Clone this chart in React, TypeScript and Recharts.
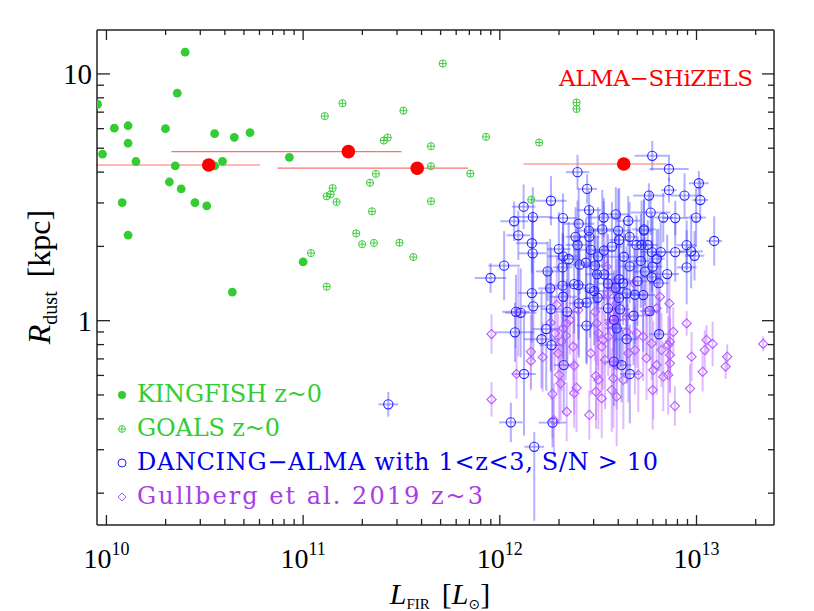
import React from "react";
import { ScatterChart, Scatter, XAxis, YAxis, ErrorBar } from "recharts";

// log10(L_FIR / Lsun), log10(R_dust / kpc)
const kingfish: number[][] = [
  [10.4, 1.088], [10.36, 0.922], [9.955, 0.877], [10.04, 0.78], [10.11, 0.79],
  [10.11, 0.719], [9.98, 0.675], [10.15, 0.645], [10.08, 0.478], [10.11, 0.347],
  [10.3, 0.778], [10.35, 0.627], [10.32, 0.562], [10.38, 0.534], [10.45, 0.478],
  [10.51, 0.465], [10.55, 0.758], [10.55, 0.627], [10.59, 0.646], [10.65, 0.743],
  [10.73, 0.762], [10.64, 0.116], [10.93, 0.662], [11.0, 0.238],
];

const goals: number[][] = [
  [11.71, 1.042], [11.2, 0.881], [11.11, 0.829], [11.51, 0.851], [11.41, 0.73],
  [11.43, 0.742], [11.93, 0.745], [12.2, 0.722], [11.65, 0.707], [11.65, 0.626],
  [11.37, 0.595], [11.34, 0.559], [11.15, 0.537], [11.12, 0.504], [11.14, 0.512],
  [11.17, 0.481], [11.85, 0.596], [11.65, 0.484], [11.35, 0.443], [11.27, 0.354],
  [11.3, 0.31], [11.36, 0.315], [11.49, 0.316], [11.56, 0.258], [11.04, 0.274],
  [11.12, 0.138], [12.16, 0.49], [12.39, 0.884], [12.39, 0.858],
];

// logL, logR, lower x error, upper x error (dex)
const shizels: number[][] = [
  [10.52, 0.631, 0.57, 0.26],
  [11.23, 0.685, 0.9, 0.27],
  [11.58, 0.618, 0.71, 0.26],
  [12.63, 0.635, 0.51, 0.22],
];

// logL, logR, x error, y error (dex)
const dancing: (number | number[])[][] = [
  [12.775, 0.668, 0.09, 0.06], [12.395, 0.602, 0.06, 0.07], [12.86, 0.615, 0.1, 0.05],
  [12.444, 0.534, 0.05, 0.06], [12.86, 0.529, 0.04, 0.05], [13.012, 0.557, 0.05, 0.05],
  [13.019, 0.489, 0.04, 0.08], [12.758, 0.507, 0.08, 0.05], [12.939, 0.507, 0.07, 0.09],
  [12.26, 0.486, 0.08, 0.1], [12.121, 0.462, 0.06, 0.09], [12.168, 0.42, 0.1, 0.12],
  [12.073, 0.403, 0.07, 0.08], [12.094, 0.346, 0.06, 0.1], [12.163, 0.314, 0.08, 0.12],
  [12.321, 0.416, 0.07, 0.1], [12.454, 0.448, 0.06, 0.08], [12.401, 0.393, 0.08, 0.14],
  [12.528, 0.418, 0.09, 0.08], [12.59, 0.431, 0.07, 0.11], [12.653, 0.405, 0.06, 0.1],
  [12.767, 0.438, 0.1, 0.09], [12.831, 0.418, 0.05, 0.1], [12.892, 0.416, 0.06, 0.07],
  [12.998, 0.418, 0.05, 0.12], [13.09, 0.323, 0.04, 0.1], [12.733, 0.37, 0.06, 0.12],
  [12.95, 0.306, 0.05, 0.1], [12.022, 0.223, 0.08, 0.14], [11.953, 0.173, 0.08, 0.06],
  [12.167, 0.273, 0.07, 0.17], [12.243, 0.2, 0.06, 0.12], [12.163, 0.112, 0.07, 0.2],
  [12.322, 0.261, 0.08, 0.13], [12.385, 0.34, 0.05, 0.12], [12.395, 0.307, 0.06, 0.18],
  [12.453, 0.365, 0.07, 0.1], [12.521, 0.37, 0.06, 0.16], [12.455, 0.34, 0.05, 0.13],
  [12.463, 0.287, 0.09, 0.15], [12.529, 0.284, 0.06, 0.2], [12.319, 0.216, 0.05, 0.14],
  [12.406, 0.227, 0.07, 0.12], [12.438, 0.235, 0.05, 0.18], [12.484, 0.223, 0.06, 0.15],
  [12.531, 0.188, 0.05, 0.12], [12.602, 0.365, 0.06, 0.17], [12.607, 0.327, 0.05, 0.21],
  [12.66, 0.34, 0.04, 0.14], [12.631, 0.259, 0.07, 0.15], [12.695, 0.307, 0.05, 0.12],
  [12.733, 0.365, 0.04, 0.13], [12.721, 0.307, 0.06, 0.18], [12.752, 0.307, 0.05, 0.1],
  [12.773, 0.278, 0.06, 0.16], [12.818, 0.278, 0.05, 0.12], [12.717, 0.242, 0.05, 0.19],
  [12.738, 0.199, 0.06, 0.14], [12.777, 0.219, 0.05, 0.2], [12.772, 0.176, 0.05, 0.15],
  [12.798, 0.251, 0.04, 0.12], [12.807, 0.152, 0.05, 0.22], [12.851, 0.189, 0.06, 0.16],
  [12.95, 0.216, 0.05, 0.15], [12.892, 0.278, 0.05, 0.12], [12.99, 0.263, 0.05, 0.1],
  [12.973, 0.281, 0.06, 0.15], [12.607, 0.168, 0.05, 0.2], [12.627, 0.152, 0.06, 0.17],
  [12.589, 0.133, 0.05, 0.22], [12.645, 0.111, 0.06, 0.19], [12.606, 0.092, 0.05, 0.25],
  [12.687, 0.105, 0.05, 0.2], [12.729, 0.104, 0.06, 0.23], [12.762, 0.039, 0.05, 0.2],
  [12.495, 0.188, 0.06, 0.15], [12.458, 0.131, 0.05, 0.2], [12.497, 0.093, 0.06, 0.18],
  [12.399, 0.144, 0.05, 0.22], [12.319, 0.142, 0.06, 0.17], [12.378, 0.148, 0.05, 0.2],
  [12.322, 0.097, 0.07, 0.25], [12.256, 0.131, 0.06, 0.2], [12.402, 0.07, 0.05, 0.22],
  [12.441, 0.073, 0.06, 0.25], [12.55, 0.05, 0.05, 0.2], [12.611, 0.046, 0.05, 0.22],
  [12.106, 0.032, 0.08, 0.18], [12.17, 0.058, 0.06, 0.22], [12.26, 0.047, 0.05, 0.25],
  [12.343, 0.036, 0.06, 0.2], [12.082, 0.036, 0.07, 0.15], [12.077, -0.047, 0.1, 0.12],
  [12.236, -0.034, 0.07, 0.25], [12.212, -0.075, 0.09, 0.2], [12.263, -0.099, 0.06, 0.22],
  [12.441, -0.02, 0.05, 0.15], [12.325, -0.18, 0.05, 0.2], [12.123, -0.216, 0.06, 0.25],
  [12.056, -0.412, 0.06, 0.08], [12.268, -0.413, 0.07, 0.1], [12.175, -0.511, 0.05, [0.3, 0.06]],
  [12.58, -0.166, 0.05, 0.18], [12.619, -0.18, 0.05, 0.15], [12.661, -0.216, 0.05, 0.2],
  [12.645, -0.075, 0.06, 0.18], [12.81, -0.055, 0.05, 0.15], [12.58, 0.003, 0.05, 0.2],
  [12.594, -0.031, 0.06, 0.16], [11.433, -0.339, 0.05, 0.05], [12.68, 0.02, 0.05, 0.2],
  [12.35, 0.25, 0.06, 0.15], [12.57, 0.3, 0.05, 0.18], [12.66, 0.22, 0.05, 0.15],
  [12.5, 0.26, 0.06, 0.2], [12.55, 0.15, 0.05, 0.2], [12.7, 0.16, 0.05, 0.18],
  [12.3, 0.29, 0.06, 0.15], [12.48, 0.12, 0.05, 0.22],
];

// logL, logR, y error (dex)
const gullberg: number[][] = [
  [11.958, -0.054, 0.08], [11.958, -0.319, 0.07], [12.158, -0.126, 0.15], [12.158, -0.163, 0.12],
  [12.085, -0.216, 0.1], [12.218, -0.148, 0.14], [12.268, -0.297, 0.18], [12.302, -0.22, 0.2],
  [12.309, -0.254, 0.15], [12.34, -0.369, 0.12], [12.39, -0.272, 0.18], [12.378, -0.294, 0.14],
  [12.378, -0.182, 0.2], [12.297, -0.132, 0.16], [12.314, -0.085, 0.2], [12.322, -0.031, 0.15],
  [12.34, -0.011, 0.18], [12.356, 0.003, 0.14], [12.373, -0.105, 0.2], [12.28, -0.051, 0.15],
  [12.462, -0.132, 0.17], [12.455, -0.382, 0.1], [12.489, -0.224, 0.18], [12.489, -0.288, 0.15],
  [12.518, -0.315, 0.16], [12.501, -0.24, 0.2], [12.518, -0.105, 0.18], [12.535, -0.159, 0.2],
  [12.501, -0.051, 0.15], [12.493, -0.011, 0.17], [12.526, -0.078, 0.2], [12.551, -0.065, 0.16],
  [12.56, -0.011, 0.18], [12.577, 0.03, 0.15], [12.594, 0.003, 0.2], [12.577, -0.234, 0.2],
  [12.569, -0.281, 0.17], [12.594, -0.308, 0.2], [12.594, -0.18, 0.18], [12.628, -0.24, 0.2],
  [12.645, -0.045, 0.16], [12.687, -0.119, 0.18], [12.704, -0.22, 0.15], [12.653, -0.132, 0.2],
  [12.696, -0.051, 0.14], [12.729, -0.065, 0.18], [12.746, -0.152, 0.17], [12.772, -0.092, 0.15],
  [12.777, -0.281, 0.16], [12.78, -0.2, 0.2], [12.797, -0.18, 0.12], [12.822, -0.119, 0.15],
  [12.831, -0.227, 0.14], [12.856, -0.22, 0.16], [12.865, -0.173, 0.12], [12.865, -0.139, 0.15],
  [12.856, -0.099, 0.12], [12.865, -0.085, 0.14], [12.882, -0.045, 0.1], [12.862, 0.07, 0.12],
  [12.89, -0.346, 0.08], [12.95, -0.011, 0.05], [12.975, -0.146, 0.1], [12.967, -0.275, 0.1],
  [13.031, -0.207, 0.08], [13.042, -0.119, 0.08], [13.051, -0.078, 0.06], [13.082, -0.094, 0.09],
  [13.156, -0.146, 0.05], [13.148, -0.186, 0.05], [13.339, -0.094, 0.03], [12.094, 0.036, 0.18],
  [12.258, -0.008, 0.2], [12.543, 0.219, 0.15], [12.682, 0.152, 0.14], [12.814, 0.097, 0.15],
  [12.289, 0.064, 0.2], [12.399, 0.043, 0.18], [12.484, 0.036, 0.2], [12.585, -0.004, 0.18],
  [12.645, 0.016, 0.2], [12.746, 0.036, 0.17], [12.797, 0.05, 0.15], [12.551, 0.111, 0.16],
  [12.594, 0.07, 0.18], [12.275, -0.403, 0.15], [12.336, -0.061, 0.18],
];

const xMajor = [10, 11, 12, 13];
const yMajor = [0, 1];
const yMajorLabels = ["1", "10"];
const minorMult = [2, 3, 4, 5, 6, 7, 8, 9];

const legendItems = [
  { label: "KINGFISH z~0", color: "#33cc33", width: 185 },
  { label: "GOALS z~0", color: "#33cc33", width: 143 },
  { label: "DANCING−ALMA with 1<z<3, S/N > 10", color: "#0000ee", width: 521 },
  { label: "Gullberg et al. 2019 z~3", color: "#a83ce6", width: 346 },
];

const W = 814;
const H = 611;
const PLOT = { left: 97, top: 30, right: 774, bottom: 525 };
const X_DOMAIN = [9.952, 13.394];
const Y_DOMAIN = [-0.828, 1.178];
const AXIS = "#222";
const SERIF = "'Liberation Serif', serif";
const HERSHEY = "'DejaVu Serif', serif";

const BLUE = "#2222ff";
const BLUE_ERR = "rgba(70,70,255,0.42)";
const PURPLE = "#b45cff";
const PURPLE_ERR = "rgba(195,120,255,0.5)";
const GREEN = "#33cc33";

const xTicks = [
  ...xMajor,
  ...[10, 11, 12, 13].flatMap((d) => minorMult.map((m) => d + Math.log10(m))),
].filter((v) => v > X_DOMAIN[0] && v < X_DOMAIN[1]);
const yTicks = [
  ...yMajor,
  ...[-1, 0, 1].flatMap((d) => minorMult.map((m) => d + Math.log10(m))),
].filter((v) => v > Y_DOMAIN[0] && v < Y_DOMAIN[1]);

const isMajor = (v: number) => Math.abs(v - Math.round(v)) < 1e-6;

function BottomTick(props: any) {
  const x = props.payload?.coordinate ?? props.x;
  const v = props.payload.value;
  const major = isMajor(v);
  return (
    <g>
      <line x1={x} x2={x} y1={PLOT.bottom} y2={PLOT.bottom - (major ? 10 : 6)} stroke={AXIS} strokeWidth={1.3} />
      {major && (
        <text x={x} y={568} textAnchor="middle" fontFamily={SERIF} fontSize={28} fill="#000">
          10
          <tspan fontSize={18} dy={-13}>
            {Math.round(v)}
          </tspan>
        </text>
      )}
    </g>
  );
}

function TopTick(props: any) {
  const x = props.payload?.coordinate ?? props.x;
  const major = isMajor(props.payload.value);
  return <line x1={x} x2={x} y1={PLOT.top} y2={PLOT.top + (major ? 10 : 5)} stroke={AXIS} strokeWidth={1.3} />;
}

function LeftTick(props: any) {
  const y = props.payload?.coordinate ?? props.y;
  const v = props.payload.value;
  const major = isMajor(v);
  const idx = yMajor.indexOf(Math.round(v));
  return (
    <g>
      <line x1={PLOT.left} x2={PLOT.left + (major ? 13 : 7)} y1={y} y2={y} stroke={AXIS} strokeWidth={1.3} />
      {major && idx >= 0 && (
        <text x={92} y={y + 10} textAnchor="end" fontFamily={SERIF} fontSize={29} fill="#000">
          {yMajorLabels[idx]}
        </text>
      )}
    </g>
  );
}

function RightTick(props: any) {
  const y = props.payload?.coordinate ?? props.y;
  const major = isMajor(props.payload.value);
  return <line x1={PLOT.right} x2={PLOT.right - (major ? 12 : 6)} y1={y} y2={y} stroke={AXIS} strokeWidth={1.3} />;
}

const kingfishShape = (p: any) => <circle cx={p.cx} cy={p.cy} r={4.4} fill={GREEN} />;
const goalsShape = (p: any) => (
  <g stroke="#44cc44" strokeWidth={1} fill="none">
    <circle cx={p.cx} cy={p.cy} r={3.6} />
    <line x1={p.cx - 3.6} x2={p.cx + 3.6} y1={p.cy} y2={p.cy} />
    <line x1={p.cx} x2={p.cx} y1={p.cy - 3.6} y2={p.cy + 3.6} />
  </g>
);
const dancingShape = (p: any) => <circle cx={p.cx} cy={p.cy} r={4.6} fill="none" stroke={BLUE} strokeWidth={1.1} />;
const gullbergShape = (p: any) => (
  <path
    d={`M${p.cx},${p.cy - 4.6} L${p.cx + 4.6},${p.cy} L${p.cx},${p.cy + 4.6} L${p.cx - 4.6},${p.cy} Z`}
    fill="none"
    stroke={PURPLE}
    strokeWidth={1.1}
  />
);
const shizelsShape = (p: any) => <circle cx={p.cx} cy={p.cy} r={6.8} fill="#ff0000" />;

export default function App() {
  const kingfishRows = kingfish.map(([x, y]) => ({ x, y }));
  const goalsRows = goals.map(([x, y]) => ({ x, y }));
  const shizelsRows = shizels.map(([x, y, lo, hi]) => ({ x, y, ex: [lo, hi] }));
  const dancingRows = dancing.map(([x, y, ex, ey]) => ({ x, y, ex, ey }));
  const gullbergRows = gullberg.map(([x, y, ey]) => ({ x, y, ey }));

  return (
    <div style={{ position: "absolute", left: 0, top: 0, width: W, height: H, background: "#fff" }}>
      <ScatterChart width={W} height={H} margin={{ top: 0, right: 0, bottom: 0, left: 0 }}>
        <XAxis
          xAxisId="b"
          type="number"
          dataKey="x"
          domain={X_DOMAIN}
          allowDataOverflow
          ticks={xTicks}
          interval={0}
          height={86}
          tickLine={false}
          axisLine={{ stroke: AXIS, strokeWidth: 1.5 }}
          tick={(p: any) => <BottomTick {...p} />}
        />
        <XAxis
          xAxisId="t"
          orientation="top"
          type="number"
          dataKey="x"
          domain={X_DOMAIN}
          allowDataOverflow
          ticks={xTicks}
          interval={0}
          height={30}
          tickLine={false}
          axisLine={{ stroke: AXIS, strokeWidth: 1.5 }}
          tick={(p: any) => <TopTick {...p} />}
        />
        <YAxis
          yAxisId="l"
          type="number"
          dataKey="y"
          domain={Y_DOMAIN}
          allowDataOverflow
          ticks={yTicks}
          interval={0}
          width={97}
          tickLine={false}
          axisLine={{ stroke: AXIS, strokeWidth: 1.5 }}
          tick={(p: any) => <LeftTick {...p} />}
        />
        <YAxis
          yAxisId="r"
          orientation="right"
          type="number"
          dataKey="y"
          domain={Y_DOMAIN}
          allowDataOverflow
          ticks={yTicks}
          interval={0}
          width={40}
          tickLine={false}
          axisLine={{ stroke: AXIS, strokeWidth: 1.5 }}
          tick={(p: any) => <RightTick {...p} />}
        />

        <Scatter xAxisId="b" yAxisId="l" data={kingfishRows} shape={kingfishShape} isAnimationActive={false} />
        <Scatter xAxisId="b" yAxisId="l" data={goalsRows} shape={goalsShape} isAnimationActive={false} />
        <Scatter xAxisId="b" yAxisId="l" data={gullbergRows} shape={gullbergShape} isAnimationActive={false}>
          <ErrorBar dataKey="ey" direction="y" width={0} stroke={PURPLE_ERR} strokeWidth={2} isAnimationActive={false} />
        </Scatter>
        <Scatter xAxisId="b" yAxisId="l" data={dancingRows} shape={dancingShape} isAnimationActive={false}>
          <ErrorBar dataKey="ex" direction="x" width={0} stroke={BLUE_ERR} strokeWidth={2} isAnimationActive={false} />
          <ErrorBar dataKey="ey" direction="y" width={0} stroke={BLUE_ERR} strokeWidth={2} isAnimationActive={false} />
        </Scatter>
        <Scatter xAxisId="b" yAxisId="l" data={shizelsRows} shape={shizelsShape} isAnimationActive={false}>
          <ErrorBar dataKey="ex" direction="x" width={0} stroke="#ff7070" strokeWidth={1.2} isAnimationActive={false} />
        </Scatter>
      </ScatterChart>

      <svg width={W} height={H} style={{ position: "absolute", left: 0, top: 0, pointerEvents: "none" }}>
        <text x={753} y={86} textAnchor="end" fontFamily={HERSHEY} fontSize={23} fill="#ff0000" textLength={194} lengthAdjust="spacing">
          ALMA−SHiZELS
        </text>

        {legendItems.map((item, i) => {
          const base = 402 + i * 34;
          const cx = 122;
          const cy = base - 7;
          let sym: React.ReactNode = null;
          if (i === 0) sym = <circle cx={cx} cy={cy} r={4} fill={GREEN} />;
          if (i === 1)
            sym = (
              <g stroke="#44cc44" strokeWidth={1} fill="none">
                <circle cx={cx} cy={cy} r={3.4} />
                <line x1={cx - 3.4} x2={cx + 3.4} y1={cy} y2={cy} />
                <line x1={cx} x2={cx} y1={cy - 3.4} y2={cy + 3.4} />
              </g>
            );
          if (i === 2) sym = <circle cx={cx} cy={cy} r={4} fill="none" stroke={BLUE} strokeWidth={1} />;
          if (i === 3)
            sym = (
              <path d={`M${cx},${cy - 4} L${cx + 4},${cy} L${cx},${cy + 4} L${cx - 4},${cy} Z`} fill="none" stroke={PURPLE} strokeWidth={1} />
            );
          return (
            <g key={item.label}>
              {sym}
              <text x={137} y={base} fontFamily={HERSHEY} fontSize={24} fill={item.color} textLength={item.width} lengthAdjust="spacing">
                {item.label}
              </text>
            </g>
          );
        })}

        <text x={440} y={604} textAnchor="middle" fontFamily={SERIF} fontSize={30} fill="#000">
          <tspan fontStyle="italic">L</tspan>
          <tspan fontSize={15} dy={5}>FIR</tspan>
          <tspan dy={-5} dx={12}>[</tspan>
          <tspan fontStyle="italic">L</tspan>
          <tspan fontFamily="'DejaVu Sans', sans-serif" fontSize={14} dy={5}>⊙</tspan>
          <tspan dy={-5}>]</tspan>
        </text>

        <text transform="translate(50,277) rotate(-90)" textAnchor="middle" fontFamily={SERIF} fontSize={32} fill="#000">
          <tspan fontStyle="italic">R</tspan>
          <tspan fontSize={20} dy={7}>dust</tspan>
          <tspan dy={-7} dx={14}>[kpc]</tspan>
        </text>
      </svg>
    </div>
  );
}
